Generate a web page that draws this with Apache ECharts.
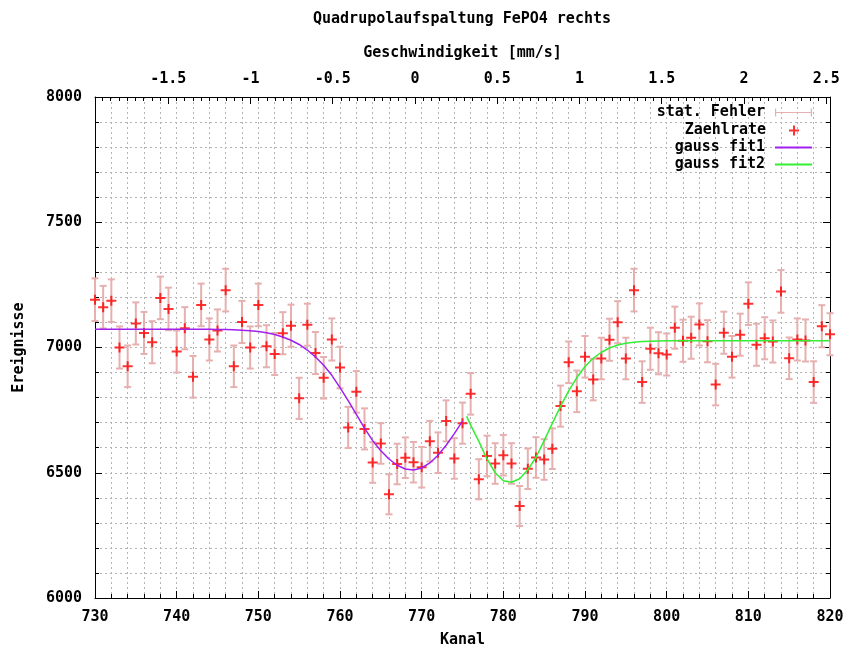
<!DOCTYPE html>
<html>
<head>
<meta charset="utf-8">
<script src="https://cdn.jsdelivr.net/npm/echarts@6/dist/echarts.min.js"></script>
<style>
  html, body { margin: 0; padding: 0; background: #fff; }
  #chart { width: 852px; height: 653px; }
</style>
</head>
<body>
<div id="chart"></div>
<script>
// Channel numbers (Kanal)
const channels = [
  730, 731, 732, 733, 734, 735, 736, 737, 738, 739,
  740, 741, 742, 743, 744, 745, 746, 747, 748, 749,
  750, 751, 752, 753, 754, 755, 756, 757, 758, 759,
  760, 761, 762, 763, 764, 765, 766, 767, 768, 769,
  770, 771, 772, 773, 774, 775, 776, 777, 778, 779,
  780, 781, 782, 783, 784, 785, 786, 787, 788, 789,
  790, 791, 792, 793, 794, 795, 796, 797, 798, 799,
  800, 801, 802, 803, 804, 805, 806, 807, 808, 809,
  810, 811, 812, 813, 814, 815, 816, 817, 818, 819,
  820
];

// Counts per channel (Zaehlrate)
const counts = [
  7191, 7161, 7187, 7000, 6925, 7096, 7058, 7021, 7198, 7154,
  6984, 7077, 6883, 7170, 7032, 7068, 7229, 6925, 7102, 7000,
  7170, 7005, 6974, 7057, 7087, 6797, 7091, 6978, 6879, 7032,
  6920, 6681, 6823, 6675, 6541, 6617, 6414, 6535, 6560, 6542,
  6522, 6626, 6580, 6707, 6557, 6698, 6815, 6474, 6567, 6537,
  6570, 6537, 6367, 6516, 6561, 6553, 6596, 6766, 6941, 6825,
  6963, 6872, 6956, 7031, 7101, 6956, 7229, 6862, 6995, 6977,
  6972, 7079, 7027, 7039, 7092, 7025, 6852, 7059, 6963, 7051,
  7175, 7011, 7037, 7024, 7224, 6957, 7032, 7028, 6862, 7085,
  7053
];

// Statistical error per channel (stat. Fehler)
const errors = [
  85, 85, 85, 84, 83, 84, 84, 84, 85, 85,
  84, 84, 83, 85, 84, 84, 85, 83, 84, 84,
  85, 84, 84, 84, 84, 82, 84, 84, 83, 84,
  83, 82, 83, 82, 81, 81, 80, 81, 81, 81,
  81, 81, 81, 82, 81, 82, 83, 80, 81, 81,
  81, 81, 80, 81, 81, 81, 81, 82, 83, 83,
  83, 83, 83, 84, 84, 83, 85, 83, 84, 84,
  84, 84, 84, 84, 84, 84, 83, 84, 83, 84,
  85, 84, 84, 84, 85, 83, 84, 84, 83, 84,
  84
];

// First Gaussian fit curve
const fit1Channels = [
  730, 731, 732, 733, 734, 735, 736, 737, 738, 739,
  740, 741, 742, 743, 744, 745, 746, 747, 748, 749,
  750, 751, 752, 753, 754, 755, 756, 757, 758, 759,
  760, 761, 762, 763, 764, 765, 766, 767, 768, 769,
  770, 771, 772, 773, 774, 775
];
const fit1Values = [
  7073, 7073, 7073, 7073, 7073, 7073, 7073, 7073, 7073, 7073,
  7073, 7073, 7073, 7073, 7073, 7072, 7072, 7071, 7069, 7067,
  7064, 7059, 7052, 7042, 7029, 7012, 6990, 6962, 6929, 6889,
  6840, 6788, 6733, 6678, 6628, 6588, 6555, 6530, 6515, 6511,
  6519, 6539, 6570, 6610, 6656, 6706
];

// Second Gaussian fit curve
const fit2Channels = [
  775.5, 776, 777, 778, 779, 780, 781, 782, 783, 784,
  785, 786, 787, 788, 789, 790, 791, 792, 793, 794,
  795, 796, 797, 798, 799, 800, 802, 804, 806, 808,
  810, 812, 814, 816, 818, 820
];
const fit2Values = [
  6725, 6690, 6625, 6555, 6500, 6468, 6462, 6476, 6512, 6562,
  6628, 6697, 6765, 6827, 6880, 6924, 6957, 6981, 6998, 7010,
  7017, 7021, 7024, 7025, 7026, 7027, 7027, 7027, 7027, 7027,
  7027, 7027, 7027, 7027, 7027, 7027
];

// Velocity scale on the top axis (mm/s)
const velocityMin = -1.945;
const velocityMax = 2.523;
const velocityTicks = [-1.5, -1, -0.5, 0, 0.5, 1, 1.5, 2, 2.5];

const FONT = 'DejaVu Sans Mono';
const baseText = { fontFamily: FONT, fontSize: 15, fontWeight: 'bold', color: '#000' };
const gridStyle = { color: '#b4b4b4', width: 1, type: [2, 3] };
const axisLineStyle = { color: '#000', width: 1 };
const ERR_COLOR = '#e6b0b0';
const PT_COLOR = '#ff0000';
const FIT1_COLOR = '#a020f0';
const FIT2_COLOR = '#33ee33';

// minor ticks on the velocity axis every 0.05 mm/s
const velocityMinor = [];
for (let k = -38; k <= 50; k++) {
  if (k % 10 !== 0) velocityMinor.push(Math.round(k * 5) / 100);
}

const countData = channels.map((c, i) => [c, counts[i]]);
const errData = channels.map((c, i) => [c, counts[i], errors[i]]);
const fit1Data = fit1Channels.map((c, i) => [c, fit1Values[i]]);
const fit2Data = fit2Channels.map((c, i) => [c, fit2Values[i]]);

function renderErrorBar(params, api) {
  const x = api.value(0);
  const y = api.value(1);
  const e = api.value(2);
  const lo = api.coord([x, y - e]);
  const hi = api.coord([x, y + e]);
  const cap = 3.5;
  const style = { stroke: ERR_COLOR, lineWidth: 2 };
  return {
    type: 'group',
    children: [
      { type: 'line', shape: { x1: lo[0], y1: lo[1], x2: hi[0], y2: hi[1] }, style },
      { type: 'line', shape: { x1: lo[0] - cap, y1: lo[1], x2: lo[0] + cap, y2: lo[1] }, style },
      { type: 'line', shape: { x1: hi[0] - cap, y1: hi[1], x2: hi[0] + cap, y2: hi[1] }, style }
    ]
  };
}

const plusPath = 'path://M4,0H6V10H4Z M0,4H10V6H0Z';
const errIconPath = 'path://M0,0H1.2V8H0Z M0,3.4H37V4.6H0Z M35.8,0H37V8H35.8Z';

function legendEntry(name, top, right, icon, w, h, gap) {
  return {
    data: [name],
    orient: 'vertical',
    align: 'right',
    right: right,
    top: top,
    padding: 0,
    itemWidth: w,
    itemHeight: h,
    icon: icon,
    selectedMode: false,
    textStyle: Object.assign({}, baseText, { padding: [0, gap, 0, 0] })
  };
}

const chart = echarts.init(document.getElementById('chart'), null, { renderer: 'canvas' });

chart.setOption({
  backgroundColor: '#ffffff',
  animation: false,
  title: {
    text: 'Quadrupolaufspaltung FePO4 rechts',
    left: 313,
    top: 12,
    padding: 0,
    textStyle: baseText
  },
  legend: [
    legendEntry('stat. Fehler', 105, 40, errIconPath, 37, 8, 5),
    legendEntry('Zaehlrate', 123, 53, plusPath, 10, 10, 18),
    legendEntry('gauss fit1', 140, 40, 'rect', 37, 2, 5),
    legendEntry('gauss fit2', 157, 40, 'rect', 37, 2, 5)
  ],
  grid: { left: 95, right: 22, top: 97, bottom: 53, containLabel: false },
  xAxis: [
    {
      type: 'value',
      position: 'bottom',
      min: 730,
      max: 820,
      interval: 10,
      name: 'Kanal',
      nameLocation: 'middle',
      nameGap: 35,
      nameTextStyle: baseText,
      axisLine: { show: true, onZero: false, lineStyle: axisLineStyle },
      axisTick: { show: true, inside: true, length: 7, lineStyle: axisLineStyle },
      minorTick: { show: true, splitNumber: 5, length: 4, lineStyle: axisLineStyle },
      axisLabel: Object.assign({}, baseText, { margin: 12, formatter: (v) => String(v) }),
      splitLine: { show: true, lineStyle: gridStyle },
      minorSplitLine: { show: true, lineStyle: gridStyle }
    },
    {
      type: 'value',
      position: 'top',
      min: velocityMin,
      max: velocityMax,
      name: 'Geschwindigkeit [mm/s]',
      nameLocation: 'middle',
      nameGap: 36,
      nameTextStyle: baseText,
      axisLine: { show: true, onZero: false, lineStyle: axisLineStyle },
      axisTick: { show: true, inside: true, length: 7, lineStyle: axisLineStyle, customValues: velocityTicks },
      axisLabel: Object.assign({}, baseText, {
        margin: 10,
        customValues: velocityTicks,
        formatter: (v) => String(v)
      }),
      splitLine: { show: false }
    },
    {
      type: 'value',
      position: 'top',
      min: velocityMin,
      max: velocityMax,
      axisLine: { show: false, onZero: false },
      axisTick: { show: true, inside: true, length: 4, lineStyle: axisLineStyle, customValues: velocityMinor },
      axisLabel: { show: false },
      splitLine: { show: false }
    }
  ],
  yAxis: [
    {
      type: 'value',
      position: 'left',
      min: 6000,
      max: 8000,
      interval: 500,
      name: 'Ereignisse',
      nameLocation: 'middle',
      nameGap: 68,
      nameTextStyle: baseText,
      axisLine: { show: true, onZero: false, lineStyle: axisLineStyle },
      axisTick: { show: true, inside: true, length: 7, lineStyle: axisLineStyle },
      minorTick: { show: true, splitNumber: 5, length: 4, lineStyle: axisLineStyle },
      axisLabel: Object.assign({}, baseText, { margin: 13, formatter: (v) => String(v) }),
      splitLine: { show: true, lineStyle: gridStyle },
      minorSplitLine: { show: true, lineStyle: gridStyle }
    },
    {
      type: 'value',
      position: 'right',
      min: 6000,
      max: 8000,
      interval: 500,
      axisLine: { show: true, onZero: false, lineStyle: axisLineStyle },
      axisTick: { show: true, inside: true, length: 7, lineStyle: axisLineStyle },
      minorTick: { show: true, splitNumber: 5, length: 4, lineStyle: axisLineStyle },
      axisLabel: { show: false },
      splitLine: { show: false }
    }
  ],
  series: [
    {
      name: 'stat. Fehler',
      type: 'custom',
      xAxisIndex: 0,
      yAxisIndex: 0,
      renderItem: renderErrorBar,
      encode: { x: 0, y: 1 },
      itemStyle: { color: ERR_COLOR },
      clip: false,
      z: 2,
      data: errData
    },
    {
      name: 'Zaehlrate',
      type: 'scatter',
      xAxisIndex: 0,
      yAxisIndex: 0,
      symbol: plusPath,
      symbolSize: 10,
      itemStyle: { color: PT_COLOR },
      clip: false,
      z: 3,
      data: countData
    },
    {
      name: 'gauss fit1',
      type: 'line',
      xAxisIndex: 0,
      yAxisIndex: 0,
      showSymbol: false,
      symbol: 'none',
      itemStyle: { color: FIT1_COLOR },
      lineStyle: { color: FIT1_COLOR, width: 1.5 },
      z: 4,
      data: fit1Data
    },
    {
      name: 'gauss fit2',
      type: 'line',
      xAxisIndex: 0,
      yAxisIndex: 0,
      showSymbol: false,
      symbol: 'none',
      itemStyle: { color: FIT2_COLOR },
      lineStyle: { color: FIT2_COLOR, width: 1.5 },
      z: 4,
      data: fit2Data
    }
  ]
});
</script>
</body>
</html>
